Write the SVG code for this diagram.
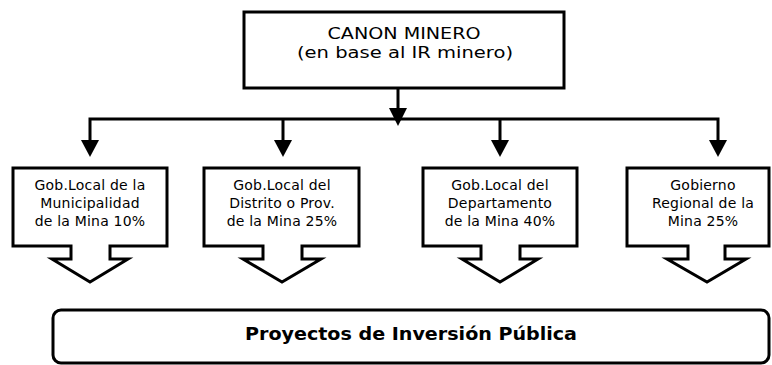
<svg xmlns="http://www.w3.org/2000/svg" width="772" height="365" viewBox="0 0 772 365">
<style>
.box{fill:#fff;stroke:#000;stroke-width:3;stroke-linejoin:miter}
.ln{stroke:#000;stroke-width:3;fill:none}
.t{font-family:"DejaVu Sans",Verdana,sans-serif;font-size:14px;letter-spacing:0.2px;fill:#000;text-anchor:middle}
.tt{font-family:"DejaVu Sans",Verdana,sans-serif;font-size:16px;fill:#000;text-anchor:middle}
.tb{font-family:"DejaVu Sans Condensed","DejaVu Sans",sans-serif;font-size:17px;font-weight:bold;fill:#000;text-anchor:middle}
</style>
<rect width="772" height="365" fill="#fff"/>
<g id="connectors">
<line class="ln" x1="398" y1="88" x2="398" y2="108"/>
<path d="M389,108 L407,108 L398,126 Z" fill="#000"/>
<path class="ln" d="M90,140 L90,119 L718,119 L718,140"/>
<line class="ln" x1="283" y1="119" x2="283" y2="140"/>
<line class="ln" x1="500" y1="119" x2="500" y2="140"/>
<path d="M81,140 L99,140 L90,157 Z" fill="#000"/>
<path d="M274,140 L292,140 L283,157 Z" fill="#000"/>
<path d="M491,140 L509,140 L500,157 Z" fill="#000"/>
<path d="M709,140 L727,140 L718,157 Z" fill="#000"/>
</g>
<g id="canon">
<rect class="box" x="244" y="12" width="320" height="76"/>
<text class="tt" x="404" y="39" textLength="153" lengthAdjust="spacingAndGlyphs">CANON MINERO</text>
<text class="tt" x="405" y="58" textLength="216" lengthAdjust="spacingAndGlyphs">(en base al IR minero)</text>
</g>
<g id="n1">
<path class="box" d="M13,168 L167,168 L167,246 L110,246 L110,259 L128,259 L90,282 L52,259 L71,259 L71,246 L13,246 Z"/>
<text class="t" x="90" y="190">Gob.Local de la</text>
<text class="t" x="90" y="208">Municipalidad</text>
<text class="t" x="90" y="226">de la Mina 10%</text>
</g>
<g id="n2">
<path class="box" d="M204,168 L359,168 L359,246 L302,246 L302,259 L321,259 L282,282 L243,259 L263,259 L263,246 L204,246 Z"/>
<text class="t" x="282" y="190">Gob.Local del</text>
<text class="t" x="282" y="208">Distrito o Prov.</text>
<text class="t" x="282" y="226">de la Mina 25%</text>
</g>
<g id="n3">
<path class="box" d="M423,168 L577,168 L577,246 L520,246 L520,259 L538,259 L500,282 L462,259 L481,259 L481,246 L423,246 Z"/>
<text class="t" x="500" y="190">Gob.Local del</text>
<text class="t" x="500" y="208">Departamento</text>
<text class="t" x="500" y="226">de la Mina 40%</text>
</g>
<g id="n4">
<path class="box" d="M627,168 L769,168 L769,246 L725,246 L725,259 L746,259 L707,282 L667,259 L688,259 L688,246 L627,246 Z"/>
<text class="t" x="703" y="190">Gobierno</text>
<text class="t" x="703" y="208">Regional de la</text>
<text class="t" x="703" y="226">Mina 25%</text>
</g>
<g id="proyectos">
<rect class="box" x="53" y="310" width="716" height="53" rx="8" ry="8"/>
<text class="tb" x="411" y="340" textLength="332" lengthAdjust="spacingAndGlyphs">Proyectos de Inversión Pública</text>
</g>
</svg>
